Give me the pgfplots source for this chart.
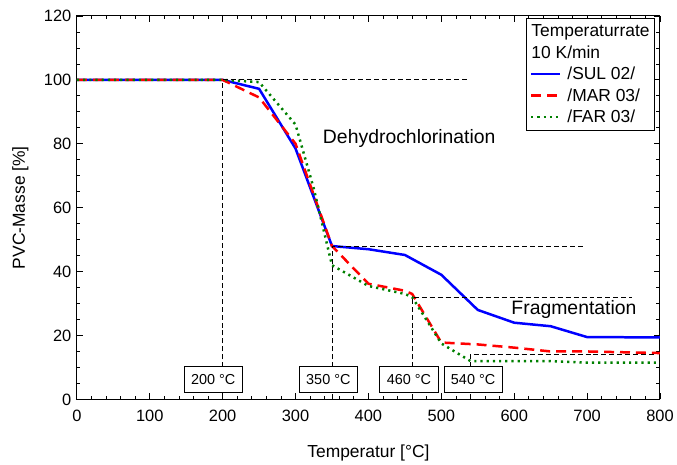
\documentclass[border=0pt]{standalone}
\usepackage{fontspec}
\setmainfont{Liberation Sans}
\usepackage{pgfplots}
\pgfplotsset{compat=1.18}
\definecolor{sulblue}{RGB}{0,0,255}
\definecolor{marred}{RGB}{255,0,0}
\definecolor{fargreen}{RGB}{0,128,0}
\begin{document}
\begin{tikzpicture}
\begin{axis}[
  name=ax,
  scale only axis,
  width=584bp, height=384bp,
  xmin=0, xmax=800, ymin=0, ymax=120,
  xtick={0,100,...,800}, ytick={0,20,...,120},
  minor x tick num=4, minor y tick num=3,
  tick align=inside,
  major tick length=6bp, minor tick length=3.5bp,
  axis line style={line width=1bp},
  every tick/.style={black, line width=0.8bp},
  /pgf/number format/assume math mode=true,
  tick label style={font=\fontsize{16.5}{19}\selectfont},
  xticklabel style={yshift=-7bp},
  yticklabel style={xshift=-2bp},
  xlabel={Temperatur [°C]},
  ylabel={PVC-Masse [\%]},
  every axis x label/.style={at={(rel axis cs:0.5,0)}, yshift=-58bp, anchor=base, font=\fontsize{17.5}{20}\selectfont},
  every axis y label/.style={at={(rel axis cs:0,0.5)}, xshift=-52bp, rotate=90, anchor=base, font=\fontsize{17.5}{20}\selectfont},
  legend cell align=left,
  legend image code/.code={\draw[#1] (0bp,0bp) -- (29bp,0bp);},
  legend style={at={(rel axis cs:1,1)}, anchor=north east, xshift=-5bp, yshift=-2bp,
     font=\fontsize{17.5}{20}\selectfont, draw=black, line width=1bp,
     inner xsep=3bp, inner ysep=4bp, row sep=3.5bp, column sep=4bp},
]
\addlegendimage{empty legend}
\addlegendentry{\hspace{-36bp}Temperaturrate}
\addlegendimage{empty legend}
\addlegendentry{\hspace{-36bp}10 K/min}

\addplot[sulblue, line width=2.5bp] coordinates {
(0,100) (200,100) (250,97.2) (300,78.5) (350,48) (400,47) (450,45.2) (500,39) (550,28) (600,24) (650,22.9) (700,19.5) (800,19.4)};
\addlegendentry{/SUL 02/}
\addplot[marred, line width=2.5bp, dash pattern=on 10bp off 6bp] coordinates {
(0,100) (200,100) (250,94.5) (300,80) (350,48) (400,36.2) (450,34) (460,33) (500,17.8) (550,17.2) (600,16.2) (650,15) (700,15) (800,14.5)};
\addlegendentry{/MAR 03/}
\addplot[fargreen, line width=2.5bp, dash pattern=on 2.2bp off 4bp] coordinates {
(0,100) (200,100) (250,99.3) (300,86) (325,66) (350,42) (400,35.5) (450,33) (460,32) (500,17.5) (540,12) (650,12) (700,11.5) (800,11.5)};
\addlegendentry{/FAR 03/}

% reference lines
\addplot[black, line width=0.8bp, dash pattern=on 5bp off 3bp, forget plot] coordinates {(200,0) (200,100) (538,100)};
\addplot[black, line width=0.8bp, dash pattern=on 5bp off 3bp, forget plot] coordinates {(350,0) (350,48) (695,48)};
\addplot[black, line width=0.8bp, dash pattern=on 5bp off 3bp, forget plot] coordinates {(460,0) (460,32) (762,32)};
\addplot[black, line width=0.8bp, dash pattern=on 5bp off 3bp, forget plot] coordinates {(540,0) (540,14) (795,14)};

\node[font=\fontsize{19.5}{22}\selectfont] at (axis cs:456,81.6) {Dehydrochlorination};
\node[font=\fontsize{19.5}{22}\selectfont] at (axis cs:682,28) {Fragmentation};

\tikzset{tlabel/.style={draw=black, fill=white, line width=0.8bp, font=\fontsize{14.5}{16}\selectfont, inner xsep=7bp, inner ysep=0bp, minimum height=26bp}}
\node[tlabel] at (axis cs:187,6.25) {200 °C};
\node[tlabel] at (axis cs:345,6.25) {350 °C};
\node[tlabel] at (axis cs:455.5,6.25) {460 °C};
\node[tlabel] at (axis cs:543.6,6.25) {540 °C};
\end{axis}
\path ([xshift=-77bp,yshift=-62bp]ax.south west) rectangle ([xshift=16bp,yshift=16bp]ax.north east);
\end{tikzpicture}
\end{document}
